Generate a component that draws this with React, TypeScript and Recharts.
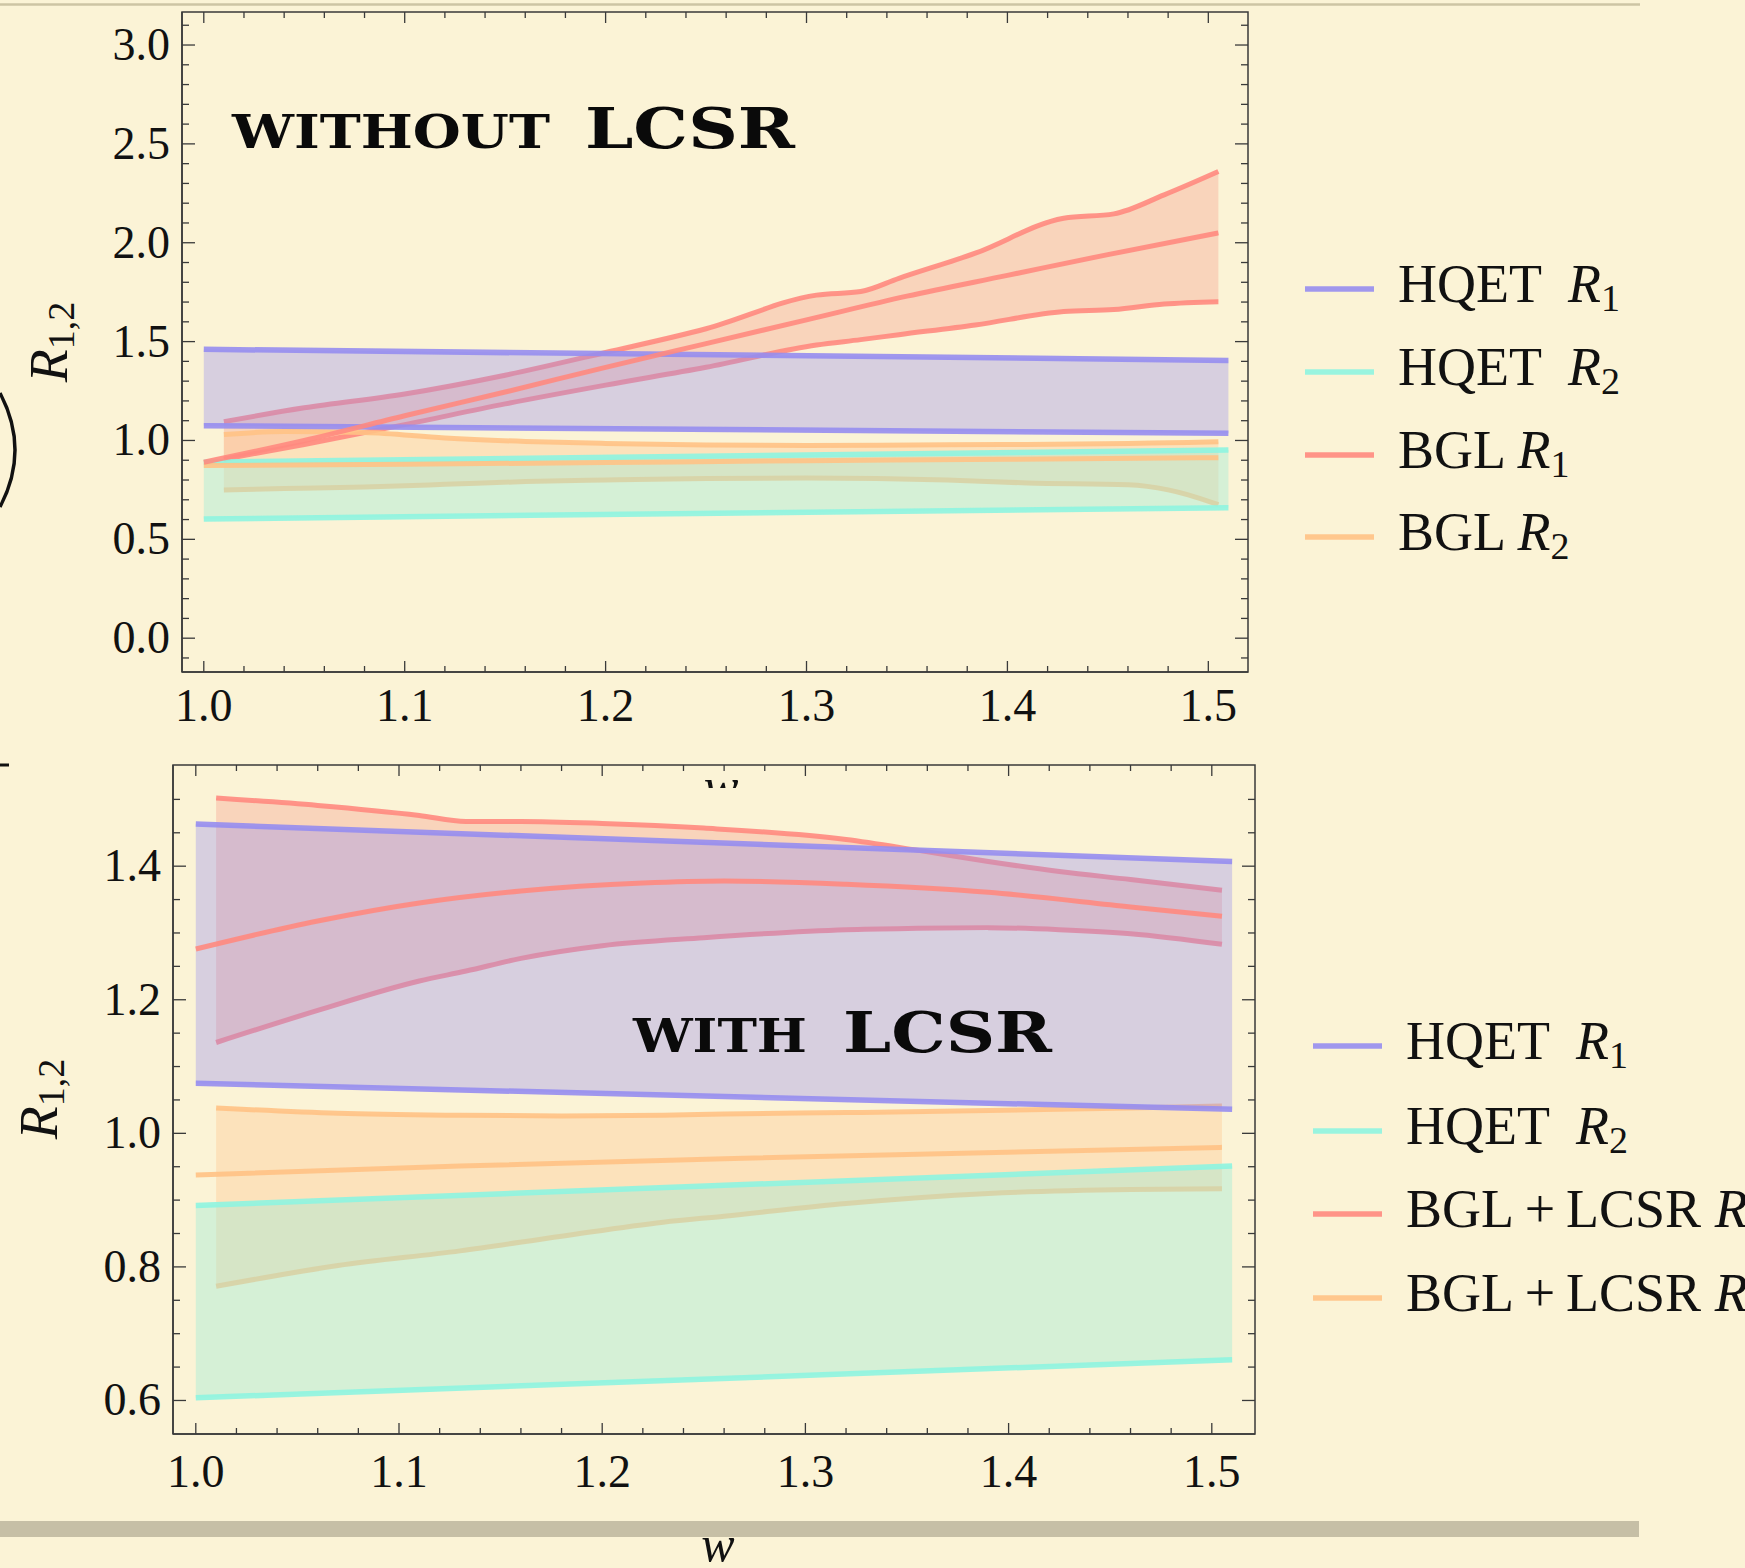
import React from "react";
import { Area, ComposedChart, Line, ReferenceArea, XAxis, YAxis } from "recharts";

const BG = "#fbf3d6";
const INK = "#3a3a3a";
const SERIF = "'Liberation Serif', 'DejaVu Serif', serif";
const BLUE = "#968df0";
const CYAN = "#8ef4e0";
const GREEN_FILL = "#9eebd6";
const RED = "#ff8a80";
const RED_FILL = "#f8a391";
const ORANGE = "#ffc285";
const ORANGE_FILL = "#fec891";

// ---- upper panel: without LCSR ----
const hqetW = [1.0, 1.51];
const noHqetR1Hi = [1.461, 1.405];
const noHqetR1Lo = [1.075, 1.036];
const noHqetR2Hi = [0.89, 0.952];
const noHqetR2Lo = [0.603, 0.66];

const noR1W = [1.01, 1.05, 1.1, 1.15, 1.2, 1.25, 1.305, 1.327, 1.346, 1.384, 1.428, 1.453, 1.478, 1.505];
const noR1Hi = [1.095, 1.165, 1.235, 1.33, 1.445, 1.565, 1.735, 1.753, 1.82, 1.947, 2.124, 2.146, 2.242, 2.36];
const noR1Lo = [0.905, 0.98, 1.08, 1.185, 1.28, 1.37, 1.483, 1.51, 1.535, 1.584, 1.652, 1.662, 1.69, 1.702];
const noR1MidW = [1.0, 1.05, 1.1, 1.15, 1.2, 1.25, 1.3, 1.35, 1.4, 1.45, 1.505];
const noR1Mid = [0.89, 1.0, 1.125, 1.245, 1.37, 1.49, 1.61, 1.73, 1.835, 1.94, 2.05];

const noR2W = [1.01, 1.04, 1.08, 1.12, 1.16, 1.2, 1.25, 1.3, 1.37, 1.41, 1.46, 1.48, 1.49, 1.505];
const noR2Hi = [1.03, 1.045, 1.04, 1.012, 0.995, 0.985, 0.977, 0.975, 0.978, 0.98, 0.985, 0.988, 0.99, 0.994];
const noR2Lo = [0.75, 0.757, 0.765, 0.778, 0.792, 0.8, 0.808, 0.81, 0.8, 0.785, 0.776, 0.75, 0.725, 0.675];
const noR2MidW = [1.0, 1.1, 1.2, 1.3, 1.4, 1.505];
const noR2Mid = [0.873, 0.88, 0.888, 0.898, 0.905, 0.913];

// ---- lower panel: with LCSR ----
const wHqetR1Hi = [1.463, 1.407];
const wHqetR1Lo = [1.075, 1.036];
const wHqetR2Hi = [0.892, 0.951];
const wHqetR2Lo = [0.604, 0.661];

const wR1W = [1.01, 1.06, 1.11, 1.133, 1.16, 1.2, 1.25, 1.32, 1.355, 1.39, 1.425, 1.46, 1.505];
const wR1Hi = [1.502, 1.491, 1.476, 1.467, 1.467, 1.464, 1.457, 1.44, 1.424, 1.407, 1.392, 1.38, 1.364];
const wR1Lo = [1.136, 1.184, 1.228, 1.243, 1.262, 1.281, 1.293, 1.305, 1.307, 1.308, 1.305, 1.299, 1.283];
const wR1MidW = [1.0, 1.06, 1.11, 1.16, 1.22, 1.26, 1.32, 1.39, 1.46, 1.505];
const wR1Mid = [1.276, 1.318, 1.345, 1.363, 1.375, 1.378, 1.373, 1.361, 1.339, 1.325];

const wR2W = [1.01, 1.07, 1.13, 1.18, 1.23, 1.26, 1.32, 1.39, 1.46, 1.505];
const wR2Hi = [1.038, 1.03, 1.027, 1.026, 1.027, 1.029, 1.031, 1.034, 1.038, 1.041];
const wR2Lo = [0.771, 0.802, 0.824, 0.846, 0.867, 0.876, 0.895, 0.91, 0.916, 0.917];
const wR2MidW = [1.0, 1.13, 1.26, 1.505];
const wR2Mid = [0.9375, 0.951, 0.962, 0.979];

// ticks
const range = (a: number, b: number, s: number) =>
  Array.from({ length: Math.round((b - a) / s) + 1 }, (_, i) => +(a + i * s).toFixed(3));
const xTicks = range(1.0, 1.5, 0.02);
const topYTicks = range(-0.1, 3.1, 0.1);
const botYTicks = range(0.6, 1.5, 0.05);

const topLegend = ["HQET  ", "HQET  ", "BGL ", "BGL "];
const botLegend = ["HQET  ", "HQET  ", "BGL\u2009+\u2009LCSR ", "BGL\u2009+\u2009LCSR "];
const legendSubs = ["1", "2", "1", "2"];
const legendColors = [BLUE, CYAN, RED, ORANGE];

const pts = (w: number[], v: number[]) => w.map((x, i) => ({ w: x, v: v[i] }));
const band = (w: number[], lo: number[], hi: number[]) => w.map((x, i) => ({ w: x, v: [lo[i], hi[i]] }));
const isMajor = (v: number, step: number) => Math.abs(v / step - Math.round(v / step)) < 1e-6;

function XTick(props: any) {
  const { x, y, payload, plotH, labelDy } = props;
  const v = payload.value;
  const major = isMajor(v, 0.1);
  const len = major ? 11 : 6;
  return (
    <g>
      <line x1={x} x2={x} y1={y} y2={y - len} stroke={INK} strokeWidth={1.3} />
      <line x1={x} x2={x} y1={y - plotH} y2={y - plotH + len} stroke={INK} strokeWidth={1.3} />
      {major && (
        <text x={x} y={y + labelDy} textAnchor="middle" fontFamily={SERIF} fontSize={46} fill="#111">
          {v.toFixed(1)}
        </text>
      )}
    </g>
  );
}

function YTick(props: any) {
  const { x, y, payload, plotW, step } = props;
  const v = payload.value;
  const major = isMajor(v, step);
  const len = major ? 13 : 7;
  return (
    <g>
      <line x1={x} x2={x + len} y1={y} y2={y} stroke={INK} strokeWidth={1.3} />
      <line x1={x + plotW} x2={x + plotW - len} y1={y} y2={y} stroke={INK} strokeWidth={1.3} />
      {major && (
        <text x={x - 12} y={y + 15} textAnchor="end" fontFamily={SERIF} fontSize={46} fill="#111">
          {v.toFixed(1)}
        </text>
      )}
    </g>
  );
}

function Panel(p: any) {
  const plotW = p.width - p.right - p.yAxisW;
  const plotH = p.height - p.topM - p.xAxisH;
  return (
    <div style={{ position: "absolute", left: 0, top: p.top }}>
      <ComposedChart width={p.width} height={p.height} margin={{ top: p.topM, right: p.right, bottom: 0, left: 0 }}>
        <XAxis
          dataKey="w"
          type="number"
          domain={p.xDomain}
          allowDataOverflow
          ticks={xTicks}
          interval={0}
          tickSize={0}
          tickMargin={0}
          tickLine={false}
          height={p.xAxisH}
          axisLine={{ stroke: INK, strokeWidth: 1.5 }}
          tick={(t: any) => <XTick {...t} plotH={plotH} labelDy={p.labelDy} />}
        />
        <YAxis
          type="number"
          domain={p.yDomain}
          allowDataOverflow
          ticks={p.yTicks}
          interval={0}
          tickSize={0}
          tickMargin={0}
          tickLine={false}
          width={p.yAxisW}
          axisLine={{ stroke: INK, strokeWidth: 1.5 }}
          tick={(t: any) => <YTick {...t} plotW={plotW} step={p.yMajor} />}
        />
        <ReferenceArea
          x1={p.xDomain[0]}
          x2={p.xDomain[1]}
          y1={p.yDomain[0]}
          y2={p.yDomain[1]}
          fill="none"
          stroke={INK}
          strokeWidth={1.5}
          ifOverflow="visible"
        />
        {/* BGL bands and their edges sit under the HQET bands */}
        <Area data={band(p.r1W, p.r1Lo, p.r1Hi)} dataKey="v" type="monotone" stroke="none" fill={RED_FILL} fillOpacity={0.38} isAnimationActive={false} zIndex={100} />
        <Area data={band(p.r2W, p.r2Lo, p.r2Hi)} dataKey="v" type="monotone" stroke="none" fill={ORANGE_FILL} fillOpacity={0.38} isAnimationActive={false} zIndex={100} />
        <Line data={pts(p.r1W, p.r1Hi)} dataKey="v" type="monotone" stroke={RED} strokeWidth={5} strokeOpacity={0.9} dot={false} activeDot={false} isAnimationActive={false} zIndex={110} />
        <Line data={pts(p.r1W, p.r1Lo)} dataKey="v" type="monotone" stroke={RED} strokeWidth={5} strokeOpacity={0.9} dot={false} activeDot={false} isAnimationActive={false} zIndex={110} />
        <Line data={pts(p.r2W, p.r2Hi)} dataKey="v" type="monotone" stroke={ORANGE} strokeWidth={5} strokeOpacity={0.9} dot={false} activeDot={false} isAnimationActive={false} zIndex={110} />
        <Line data={pts(p.r2W, p.r2Lo)} dataKey="v" type="monotone" stroke={ORANGE} strokeWidth={5} strokeOpacity={0.9} dot={false} activeDot={false} isAnimationActive={false} zIndex={110} />
        <Area data={band(hqetW, p.h1Lo, p.h1Hi)} dataKey="v" type="linear" stroke="none" fill={BLUE} fillOpacity={0.35} isAnimationActive={false} zIndex={120} />
        <Area data={band(hqetW, p.h2Lo, p.h2Hi)} dataKey="v" type="linear" stroke="none" fill={GREEN_FILL} fillOpacity={0.4} isAnimationActive={false} zIndex={120} />
        <Line data={pts(hqetW, p.h1Hi)} dataKey="v" stroke={BLUE} strokeWidth={5.5} strokeOpacity={0.9} dot={false} activeDot={false} isAnimationActive={false} zIndex={130} />
        <Line data={pts(hqetW, p.h1Lo)} dataKey="v" stroke={BLUE} strokeWidth={5.5} strokeOpacity={0.9} dot={false} activeDot={false} isAnimationActive={false} zIndex={130} />
        <Line data={pts(hqetW, p.h2Hi)} dataKey="v" stroke={CYAN} strokeWidth={5.5} strokeOpacity={0.9} dot={false} activeDot={false} isAnimationActive={false} zIndex={130} />
        <Line data={pts(hqetW, p.h2Lo)} dataKey="v" stroke={CYAN} strokeWidth={5.5} strokeOpacity={0.9} dot={false} activeDot={false} isAnimationActive={false} zIndex={130} />
        <Line data={pts(p.r2MidW, p.r2Mid)} dataKey="v" type="monotone" stroke={ORANGE} strokeWidth={5} strokeOpacity={0.9} dot={false} activeDot={false} isAnimationActive={false} zIndex={140} />
        <Line data={pts(p.r1MidW, p.r1Mid)} dataKey="v" type="monotone" stroke={RED} strokeWidth={5} strokeOpacity={0.9} dot={false} activeDot={false} isAnimationActive={false} zIndex={140} />
      </ComposedChart>
    </div>
  );
}

function AxisTitle({ x, y }: { x: number; y: number }) {
  return (
    <text x={x} y={y} transform={`rotate(-90 ${x} ${y})`} textAnchor="middle" fontFamily={SERIF} fontSize={54} fill="#111">
      <tspan fontStyle="italic">R</tspan>
      <tspan fontSize={38} dy={7}>1,2</tspan>
    </text>
  );
}

function LegendBlock({ x, ys, names }: { x: number; ys: number[]; names: string[] }) {
  return (
    <g>
      {ys.map((y, i) => (
        <g key={i}>
          <line x1={x} x2={x + 69} y1={y} y2={y} stroke={legendColors[i]} strokeWidth={5.5} strokeOpacity={0.9} />
          <text x={x + 93} y={y + 13} fontFamily={SERIF} fontSize={54} fill="#111" style={{ whiteSpace: "pre" }}>
            {names[i]}
            <tspan fontStyle="italic">R</tspan>
            <tspan fontSize={38} dy={9}>{legendSubs[i]}</tspan>
          </text>
        </g>
      ))}
    </g>
  );
}

function Overlay() {
  const title = { fontFamily: "'DejaVu Serif', serif", fontWeight: 700, fill: "#0a0a0a", lengthAdjust: "spacingAndGlyphs" } as const;
  return (
    <svg width={1745} height={1568} style={{ position: "absolute", left: 0, top: 0, pointerEvents: "none" }}>
      <defs>
        <clipPath id="wcut">
          <rect x={690} y={776} width={70} height={12} />
        </clipPath>
      </defs>
      <line x1={0} x2={1640} y1={4.5} y2={4.5} stroke="#cdc4a4" strokeWidth={2.5} />
      <rect x={0} y={1521} width={1639} height={16} fill="#c6bfa6" />
      <path d="M 0 393 Q 30 450 0 507" fill="none" stroke="#111" strokeWidth={3.5} />
      <line x1={0} x2={9} y1={765} y2={765} stroke="#111" strokeWidth={3} />

      <text x={232} y={148} fontSize={46} textLength={318} {...title}>WITHOUT</text>
      <text x={585} y={148} fontSize={56} textLength={210} {...title}>LCSR</text>
      <text x={633} y={1052} fontSize={46} textLength={174} {...title}>WITH</text>
      <text x={843} y={1052} fontSize={56} textLength={209} {...title}>LCSR</text>

      <AxisTitle x={67} y={342} />
      <AxisTitle x={57} y={1099} />
      <text x={721} y={804} textAnchor="middle" fontFamily={SERIF} fontStyle="italic" fontSize={52} fill="#111" clipPath="url(#wcut)">w</text>
      <text x={718} y={1561} textAnchor="middle" fontFamily={SERIF} fontStyle="italic" fontSize={50} fill="#111">w</text>

      <LegendBlock x={1305} ys={[289, 372, 455, 537]} names={topLegend} />
      <LegendBlock x={1313} ys={[1046, 1131, 1214, 1298]} names={botLegend} />
    </svg>
  );
}

export default function App() {
  return (
    <div style={{ position: "absolute", left: 0, top: 0, width: 1745, height: 1568, background: BG, overflow: "hidden" }}>
      <Panel
        top={0}
        width={1260}
        height={740}
        topM={12}
        right={12}
        yAxisW={182}
        xAxisH={68}
        labelDy={49}
        xDomain={[0.98915, 1.51975]}
        yDomain={[-0.171, 3.167]}
        yTicks={topYTicks}
        yMajor={0.5}
        h1Hi={noHqetR1Hi}
        h1Lo={noHqetR1Lo}
        h2Hi={noHqetR2Hi}
        h2Lo={noHqetR2Lo}
        r1W={noR1W}
        r1Hi={noR1Hi}
        r1Lo={noR1Lo}
        r1MidW={noR1MidW}
        r1Mid={noR1Mid}
        r2W={noR2W}
        r2Hi={noR2Hi}
        r2Lo={noR2Lo}
        r2MidW={noR2MidW}
        r2Mid={noR2Mid}
      />
      <Panel
        top={753}
        width={1268}
        height={751}
        topM={12}
        right={13}
        yAxisW={173}
        xAxisH={70}
        labelDy={53}
        xDomain={[0.98878, 1.52126]}
        yDomain={[0.5498, 1.5515]}
        yTicks={botYTicks}
        yMajor={0.2}
        h1Hi={wHqetR1Hi}
        h1Lo={wHqetR1Lo}
        h2Hi={wHqetR2Hi}
        h2Lo={wHqetR2Lo}
        r1W={wR1W}
        r1Hi={wR1Hi}
        r1Lo={wR1Lo}
        r1MidW={wR1MidW}
        r1Mid={wR1Mid}
        r2W={wR2W}
        r2Hi={wR2Hi}
        r2Lo={wR2Lo}
        r2MidW={wR2MidW}
        r2Mid={wR2Mid}
      />
      <Overlay />
    </div>
  );
}
